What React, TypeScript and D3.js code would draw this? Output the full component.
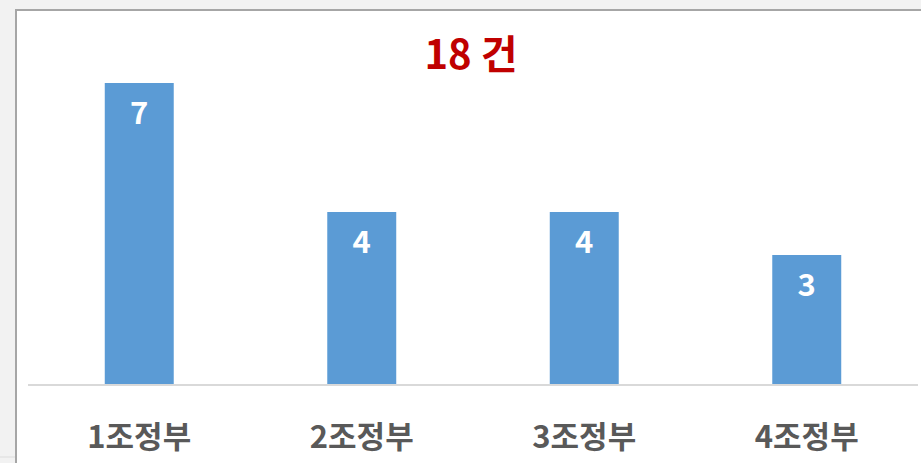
import React, { useRef, useEffect } from 'react';
import * as d3 from 'd3';

// chart data
const categories = ['1조정부', '2조정부', '3조정부', '4조정부'];
const counts = [7, 4, 4, 3];
const titleText = '18 건';

const W = 921;
const H = 463;
const FONT = '"Noto Sans CJK KR", "Noto Sans", sans-serif';

const App = () => {
  const ref = useRef<SVGSVGElement>(null);

  useEffect(() => {
    const svg = d3.select(ref.current);
    svg.selectAll('*').remove();

    // window frame around the chart
    svg.append('rect').attr('x', 0).attr('y', 0).attr('width', W).attr('height', H).attr('fill', '#f2f2f2');
    svg.append('rect').attr('x', 17).attr('y', 11).attr('width', W - 17).attr('height', H - 11).attr('fill', '#fff');
    svg.append('path')
      .attr('d', `M16,${H} V10 H${W}`)
      .attr('fill', 'none')
      .attr('stroke', '#a6a6a6')
      .attr('stroke-width', 2);
    svg.append('line')
      .attr('x1', 0).attr('x2', 15).attr('y1', 457).attr('y2', 457)
      .attr('stroke', '#dcdcdc').attr('stroke-width', 1);

    const left = 28;
    const right = 918;
    const baseline = 384;

    const x = d3.scaleBand().domain(categories).range([left, right]).paddingInner(0.69).paddingOuter(0.345);
    const y = d3.scaleLinear().domain([0, 8]).range([baseline, 40]);

    // bars
    svg.selectAll('.bar')
      .data(counts)
      .enter()
      .append('rect')
      .attr('class', 'bar')
      .attr('x', (d, i) => x(categories[i]))
      .attr('y', d => y(d))
      .attr('width', x.bandwidth())
      .attr('height', d => y(0) - y(d))
      .attr('fill', '#5b9bd5');

    // value labels inside bars
    svg.selectAll('.val')
      .data(counts)
      .enter()
      .append('text')
      .attr('class', 'val')
      .attr('x', (d, i) => x(categories[i]) + x.bandwidth() / 2)
      .attr('y', d => y(d) + 41)
      .attr('text-anchor', 'middle')
      .attr('font-family', FONT)
      .attr('font-weight', 'bold')
      .attr('font-size', '31px')
      .attr('fill', '#fff')
      .text(d => d);

    // axis line
    svg.append('line')
      .attr('x1', left).attr('x2', right)
      .attr('y1', baseline + 1).attr('y2', baseline + 1)
      .attr('stroke', '#d9d9d9')
      .attr('stroke-width', 2);

    // category labels
    svg.selectAll('.cat')
      .data(categories)
      .enter()
      .append('text')
      .attr('class', 'cat')
      .attr('x', d => x(d) + x.bandwidth() / 2)
      .attr('y', 448)
      .attr('text-anchor', 'middle')
      .attr('font-family', FONT)
      .attr('font-weight', 'bold')
      .attr('font-size', '31px')
      .attr('fill', '#595959')
      .text(d => d);

    // title
    svg.append('text')
      .attr('x', 471)
      .attr('y', 69)
      .attr('text-anchor', 'middle')
      .attr('font-family', FONT)
      .attr('font-weight', 'bold')
      .attr('font-size', '40px')
      .attr('fill', '#c00000')
      .text(titleText);
  }, []);

  return (
    <div style={{ position: 'absolute', left: 0, top: 0 }}>
      <svg ref={ref} width={W} height={H} style={{ display: 'block' }} />
    </div>
  );
};

export default App;
